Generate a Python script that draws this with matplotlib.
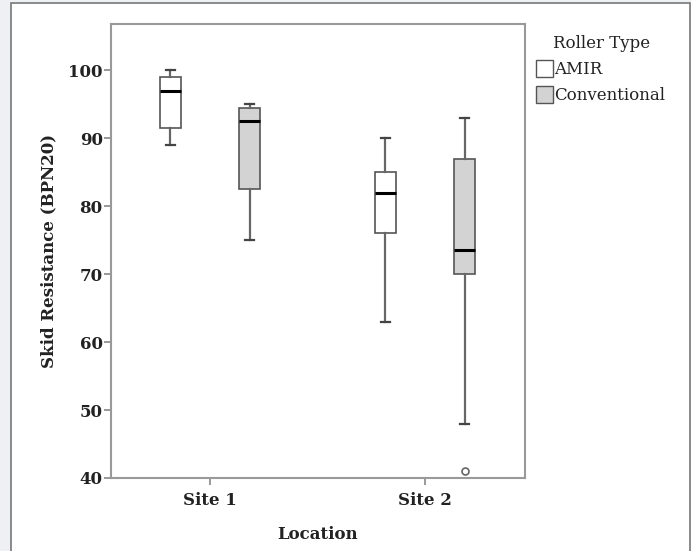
import matplotlib
matplotlib.use("Agg")
import matplotlib.pyplot as plt
from matplotlib.patches import Patch, Rectangle

locations = ["Site 1", "Site 2"]
roller_types = ["AMIR", "Conventional"]
# five-number summaries: [whislo, q1, med, q3, whishi]
amir_stats = [[89, 91.5, 97, 99, 100], [63, 76, 82, 85, 90]]
conv_stats = [[75, 82.5, 92.5, 94.5, 95], [48, 70, 73.5, 87, 93]]
amir_outliers = [[], []]
conv_outliers = [[], [41]]
yticks = [40, 50, 60, 70, 80, 90, 100]

fig = plt.figure(figsize=(6.91, 5.51), dpi=100)
fig.patch.set_facecolor("#eef0f3")
frame = Rectangle((11 / 691, -0.01), 1 - 12.5 / 691, 1.01 - 3 / 551, transform=fig.transFigure,
                  facecolor="white", edgecolor="#777777", linewidth=1.2, zorder=-10)
fig.patches.append(frame)

ax = fig.add_axes([111 / 691, 1 - 478 / 551, 414 / 691, 454 / 551])
ax.set_facecolor("white")

def make(stats, outs):
    return [dict(whislo=s[0], q1=s[1], med=s[2], q3=s[3], whishi=s[4], fliers=o)
            for s, o in zip(stats, outs)]

offset = 0.184
width = 0.1
colors = ["white", "#d3d3d3"]
for k, (stats, outs) in enumerate([(amir_stats, amir_outliers), (conv_stats, conv_outliers)]):
    positions = [i + (-offset if k == 0 else offset) for i in range(len(locations))]
    ax.bxp(make(stats, outs), positions=positions, widths=width,
           patch_artist=True, showfliers=True,
           boxprops=dict(facecolor=colors[k], edgecolor="#555555", linewidth=1.2),
           medianprops=dict(color="black", linewidth=2.2),
           whiskerprops=dict(color="#666666", linewidth=1.6),
           capprops=dict(color="#444444", linewidth=1.6),
           capwidths=0.04,
           flierprops=dict(marker="o", markersize=5, markerfacecolor="none",
                           markeredgecolor="#666666", markeredgewidth=1.2))

ax.set_xlim(-0.46, 1.465)
ax.set_ylim(40, 106.8)
ax.set_xticks(range(len(locations)))
ax.set_xticklabels(locations)
ax.set_yticks(yticks)

for sp in ax.spines.values():
    sp.set_color("#999999")
    sp.set_linewidth(1.5)
ax.tick_params(axis="both", direction="out", length=5, width=1.2, color="#888888",
               labelsize=12)
ax.tick_params(axis="y", pad=1)
ax.tick_params(axis="x", pad=5)
for lab in ax.get_xticklabels() + ax.get_yticklabels():
    lab.set_fontfamily("DejaVu Serif")
    lab.set_fontweight("bold")
    lab.set_color("#222222")

ax.set_xlabel("Location", fontfamily="DejaVu Serif", fontweight="bold", fontsize=12,
              color="#222222", labelpad=12)
ax.set_ylabel("Skid Resistance (BPN20)", fontfamily="DejaVu Serif", fontweight="bold",
              fontsize=12, color="#222222", labelpad=8)

fig.text(553 / 691, 1 - 43 / 551, "Roller Type", fontfamily="DejaVu Serif",
         fontsize=12, color="#222222", ha="left", va="center")
handles = [Patch(facecolor=c, edgecolor="#555555", linewidth=1.0) for c in colors]
leg = fig.legend(handles, roller_types, loc="upper left",
                 bbox_to_anchor=(536 / 691, 1 - 60 / 551), frameon=False,
                 prop=dict(family="DejaVu Serif", size=12), handlelength=1.0,
                 handleheight=1.2, handletextpad=0.1, labelspacing=0.45,
                 borderaxespad=0, borderpad=0)
for t in leg.get_texts():
    t.set_color("#222222")

fig.savefig("out.png", dpi=100, facecolor=fig.get_facecolor())
